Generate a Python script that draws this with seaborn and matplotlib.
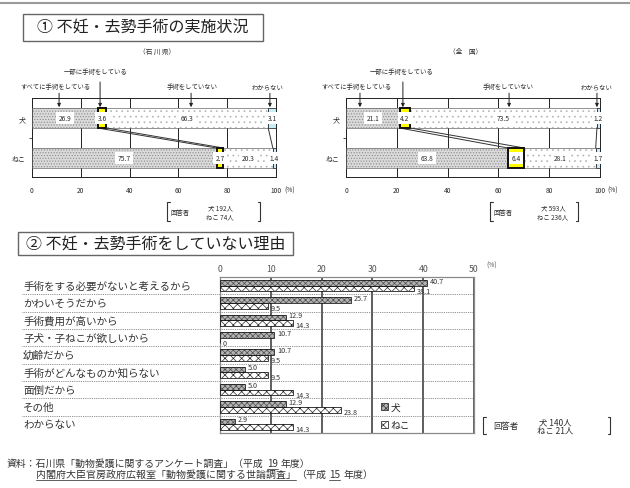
import numpy as np
import pandas as pd
import matplotlib
matplotlib.use("Agg")
import matplotlib.pyplot as plt
import matplotlib.transforms as mtransforms
from matplotlib.lines import Line2D
from matplotlib.patches import Patch, Rectangle
import seaborn as sns

# ---- ① 不妊・去勢手術の実施状況 ----
animals = ["犬", "ねこ"]
status_labels = ["すべてに手術をしている", "一部に手術をしている", "手術をしていない", "わからない"]
ishikawa_dog = [26.9, 3.6, 66.3, 3.1]
ishikawa_cat = [75.7, 2.7, 20.3, 1.4]
national_dog = [21.1, 4.2, 73.5, 1.2]
national_cat = [63.8, 6.4, 28.1, 1.7]
ishikawa_respondents = ["192人", "74人"]
national_respondents = ["593人", "236人"]
status_ticks = [0, 20, 40, 60, 80, 100]

# ---- ② 不妊・去勢手術をしていない理由 ----
reasons = [
    "手術をする必要がないと考えるから",
    "かわいそうだから",
    "手術費用が高いから",
    "子犬・子ねこが欲しいから",
    "幼齢だから",
    "手術がどんなものか知らない",
    "面倒だから",
    "その他",
    "わからない",
]
reason_dog = [40.7, 25.7, 12.9, 10.7, 10.7, 5.0, 5.0, 12.9, 2.9]
reason_cat = [38.1, 9.5, 14.3, 0.0, 9.5, 9.5, 14.3, 23.8, 14.3]
reason_respondents = ["140人", "21人"]
reason_ticks = [0, 10, 20, 30, 40, 50]

W, H = 630, 489
INK = "#2b2b2b"

sns.set_theme(style="white")
plt.rcParams["font.family"] = ["Noto Sans CJK JP", "DejaVu Sans"]
plt.rcParams["hatch.linewidth"] = 0.5

fig = plt.figure(figsize=(W / 100, H / 100), dpi=100)
fig.patch.set_facecolor("white")
renderer = fig.canvas.get_renderer()


def fx(x):
    return x / W


def fy(y):
    return 1 - y / H


def px_axes(l, t, r, b):
    return fig.add_axes([fx(l), fy(b), (r - l) / W, (b - t) / H])


def title_box(l, t, r, b, text):
    fig.add_artist(Rectangle((fx(l), fy(b)), (r - l) / W, (b - t) / H,
                             transform=fig.transFigure, fill=False,
                             edgecolor="#666666", linewidth=1.0))
    fig.text(fx((l + r) / 2), fy((t + b) / 2), text, ha="center", va="center",
             fontsize=11.5, color="#222222")


def respondents_box(x0, x1, y0, y1, cx_label, cx_counts, counts, fs):
    for x, d in [(x0, 1), (x1, -1)]:
        fig.add_artist(Line2D([fx(x + d * 2.5), fx(x), fx(x), fx(x + d * 2.5)],
                              [fy(y0), fy(y0), fy(y1), fy(y1)],
                              transform=fig.transFigure, color="#333333", linewidth=0.8))
    fig.text(fx(cx_label), fy((y0 + y1) / 2), "回答者", ha="center", va="center",
             fontsize=fs, color=INK)
    fig.text(fx(cx_counts), fy(y0 + (y1 - y0) * 0.3), f"{animals[0]} {counts[0]}",
             ha="center", va="center", fontsize=fs, color=INK)
    fig.text(fx(cx_counts), fy(y0 + (y1 - y0) * 0.75), f"{animals[1]} {counts[1]}",
             ha="center", va="center", fontsize=fs, color=INK)


SEG_STYLE = [
    dict(fc="#dadada", hatch="......", hc="#8c8c8c", ec="#666666", lw=0.5, z=3),
    dict(fc="#ffff00", hatch="", hc="#ffff00", ec="#111111", lw=1.4, z=3.5),
    dict(fc="#ffffff", hatch="...", hc="#b4b4b4", ec="#666666", lw=0.5, z=3),
    dict(fc="#c6eef6", hatch="", hc="#c6eef6", ec="#333333", lw=0.6, z=3),
]


def status_panel(ax, dog, cat, region, region_x, arrow_x, label_x, pct_dx):
    vals = np.array([dog, cat])
    lefts = np.cumsum(vals, axis=1) - vals
    rows = np.arange(len(animals))
    ax.set_axisbelow(True)
    for j, st in enumerate(SEG_STYLE):
        ax.barh(rows, vals[:, j], left=lefts[:, j], height=0.5, color=st["fc"],
                edgecolor=st["hc"], linewidth=0, hatch=st["hatch"], zorder=2)
        ax.barh(rows, vals[:, j], left=lefts[:, j], height=0.5, fill=False,
                edgecolor=st["ec"], linewidth=st["lw"], zorder=st["z"])
        for i in rows:
            ax.text(lefts[i, j] + vals[i, j] / 2, i, f"{vals[i, j]:.1f}",
                    ha="center", va="center", fontsize=4.8, color=INK, zorder=5,
                    bbox=dict(boxstyle="square,pad=0.35", fc="white", ec="none"))

    # links between the 犬 and ねこ bars
    lo_dog, lo_cat = lefts[0, 1], lefts[1, 1]
    hi_dog, hi_cat = lo_dog + dog[1], lo_cat + cat[1]
    for a, b in [(lo_dog, lo_cat), (hi_dog, hi_cat), (lefts[0, 3], lefts[1, 3])]:
        ax.plot([a, b], [0.25, 0.75], color="#333333", linewidth=0.7, zorder=3)

    # category call-outs with arrows
    label_y = [-0.8, -1.175, -0.8, -0.8]
    start_y = [-0.62, -0.9, -0.62, -0.62]
    for name, axx, lx, ly, sy in zip(status_labels, arrow_x, label_x, label_y, start_y):
        ax.text(lx, ly, name, ha="center", va="center", fontsize=4.6, color=INK)
        ax.annotate("", xy=(axx, -0.27), xytext=(axx, sy),
                    arrowprops=dict(arrowstyle="-|>", color="#222222", lw=0.7,
                                    mutation_scale=5, shrinkA=0, shrinkB=0),
                    annotation_clip=False, zorder=6)
    ax.text(region_x, -1.675, region, ha="center", va="center", fontsize=4.8, color=INK)

    ax.set_xlim(0, 100)
    ax.set_ylim(1.475, -0.5)
    ax.set_xticks(status_ticks)
    ax.set_xticklabels([str(t) for t in status_ticks])
    ax.tick_params(axis="x", length=0, pad=6.8, labelsize=4.8, labelcolor=INK)
    ax.set_yticks(rows)
    ax.set_yticklabels(animals)
    ax.tick_params(axis="y", length=0, pad=4.3, labelsize=5, labelcolor=INK)
    ax.set_yticks([0.5], minor=True)
    ax.tick_params(axis="y", which="minor", left=True, length=2.5, width=0.6,
                   color="#333333", direction="out")
    ax.grid(axis="x", color="#222222", linewidth=0.7)
    ax.grid(axis="y", visible=False)
    for s in ax.spines.values():
        s.set_color("#222222")
        s.set_linewidth(0.7)
    ax.annotate("(%)", xy=(1, 0), xycoords="axes fraction",
                xytext=(pct_dx * 0.72, -13 * 0.72), textcoords="offset points",
                ha="center", va="center", fontsize=4.8, color=INK)


# top rule
fig.add_artist(Line2D([0, 1], [fy(4), fy(4)], transform=fig.transFigure,
                      color="#9a9a9a", linewidth=1.5))

title_box(23, 15, 263, 42, "① 不妊・去勢手術の実施状況")

ax1 = px_axes(32, 99, 276, 178)
status_panel(ax1, ishikawa_dog, ishikawa_cat, "（石 川 県）", 51.2,
             arrow_x=[11.1, 27.9, 65.2, 97.5], label_x=[9.8, 26.2, 65.6, 96.7], pct_dx=14)
respondents_box(167, 260, 203, 222, 180, 220, ishikawa_respondents, 4.6)

ax2 = px_axes(346, 99, 600, 178)
status_panel(ax2, national_dog, national_cat, "（全　国）", 47.2,
             arrow_x=[5.5, 22.4, 64.2, 98.8], label_x=[4.3, 21.7, 63.8, 98.8], pct_dx=13)
respondents_box(490, 578, 203, 222, 503, 553, national_respondents, 4.6)

# ---- reasons chart ----
title_box(18, 233, 293, 256, "② 不妊・去勢手術をしていない理由")

ax3 = px_axes(220, 278, 474, 434)
n = len(reasons)
df = pd.DataFrame({
    "理由": reasons * 2,
    "動物": [animals[0]] * n + [animals[1]] * n,
    "割合": reason_dog + reason_cat,
})
sns.barplot(data=df, x="割合", y="理由", hue="動物", order=reasons, hue_order=animals,
            orient="h", width=0.64, errorbar=None, saturation=1,
            palette={animals[0]: "#b3b3b3", animals[1]: "#ffffff"},
            legend=False, ax=ax3)

bar_style = {animals[0]: dict(hatch="xxxxxx", hc="#4d4d4d", dy=1.6),
             animals[1]: dict(hatch="xxxx", hc="#2a2a2a", dy=-1.6)}
values = reason_dog + reason_cat
names = [animals[0]] * n + [animals[1]] * n
for p, name, v in zip(list(ax3.patches), names, values):
    st = bar_style[name]
    p.set_hatch(st["hatch"])
    p.set_edgecolor(st["hc"])
    p.set_linewidth(0)
    p.set_zorder(2)
    ax3.add_patch(Rectangle(p.get_xy(), p.get_width(), p.get_height(), fill=False,
                            edgecolor="#1a1a1a", linewidth=0.6, zorder=3))
    label = f"{v:.1f}" if v else "0"
    ax3.annotate(label, xy=(p.get_x() + p.get_width(), p.get_y() + p.get_height() / 2),
                 xytext=(2, st["dy"]), textcoords="offset points", ha="left", va="center",
                 fontsize=5.2, color="#333333", zorder=4)

ax3.set_axisbelow(True)
ax3.set_xlim(0, 50)
ax3.set_ylim(n - 0.5, -0.5)
ax3.set_xlabel("")
ax3.set_ylabel("")
ax3.set_yticks([])
ax3.xaxis.tick_top()
ax3.set_xticks(reason_ticks)
ax3.set_xticklabels([str(t) for t in reason_ticks])
ax3.tick_params(axis="x", length=0, pad=3, labelsize=6.3, labelcolor="#555555")
ax3.grid(axis="x", color="#333333", linewidth=1.1)
ax3.grid(axis="y", visible=False)
for s in ax3.spines.values():
    s.set_color("#8a8a8a")
    s.set_linewidth(0.9)
ax3.annotate("(%)", xy=(1, 1), xycoords="axes fraction",
             xytext=(18 * 0.72, 12 * 0.72), textcoords="offset points",
             ha="center", va="center", fontsize=4.8, color="#555555")

row_trans = mtransforms.blended_transform_factory(fig.transFigure, ax3.transData)
for i, reason in enumerate(reasons):
    ax3.text(fx(23), i, reason, transform=row_trans, ha="left", va="center",
             fontsize=7.6, color="#333333", clip_on=False)
for k in range(n - 1):
    ax3.plot([fx(22), fx(474)], [k + 0.5, k + 0.5], transform=row_trans, clip_on=False,
             color="#6a6a6a", linewidth=0.6, linestyle=(0, (1, 1.2)), zorder=1)
ax3.set_xlim(0, 50)
ax3.set_ylim(n - 0.5, -0.5)

handles = [
    Patch(facecolor="#b3b3b3", edgecolor="#333333", hatch="xxxxxx", linewidth=0.6, label=animals[0]),
    Patch(facecolor="white", edgecolor="#333333", hatch="xxxx", linewidth=0.6, label=animals[1]),
]
ax3.legend(handles=handles, loc="upper left", bbox_to_anchor=(fx(381), fy(403)),
           bbox_transform=fig.transFigure, frameon=False, fontsize=7,
           handlelength=0.7, handleheight=0.7, handletextpad=0.3,
           labelspacing=0.85, borderpad=0, borderaxespad=0)

respondents_box(483, 610, 418, 435, 506, 555, reason_respondents, 6)


# ---- source notes ----
def footer_line(x, y, pieces, fs=7.1):
    cur = x
    for text, underline, gap in pieces:
        cur += gap
        t = fig.text(fx(cur), fy(y), text, fontsize=fs, color="#333333",
                     ha="left", va="center")
        bb = t.get_window_extent(renderer=renderer)
        if underline:
            fig.add_artist(Line2D([bb.x0 / W, bb.x1 / W], [fy(y + 6), fy(y + 6)],
                                  transform=fig.transFigure, color="#444444", linewidth=0.6))
        cur = bb.x1


footer_line(7, 464, [("資料：石川県「動物愛護に関するアンケート調査」（平成", False, 0),
                     ("19", True, 3), ("年度）", False, 3)])
footer_line(36, 475, [("内閣府大臣官房政府広報室「動物愛護に関する世論調査」", True, 0),
                      ("（平成", False, 0), ("15", True, 3), ("年度）", False, 3)], fs=7.2)

fig.savefig("out.png", dpi=100, facecolor="white")
